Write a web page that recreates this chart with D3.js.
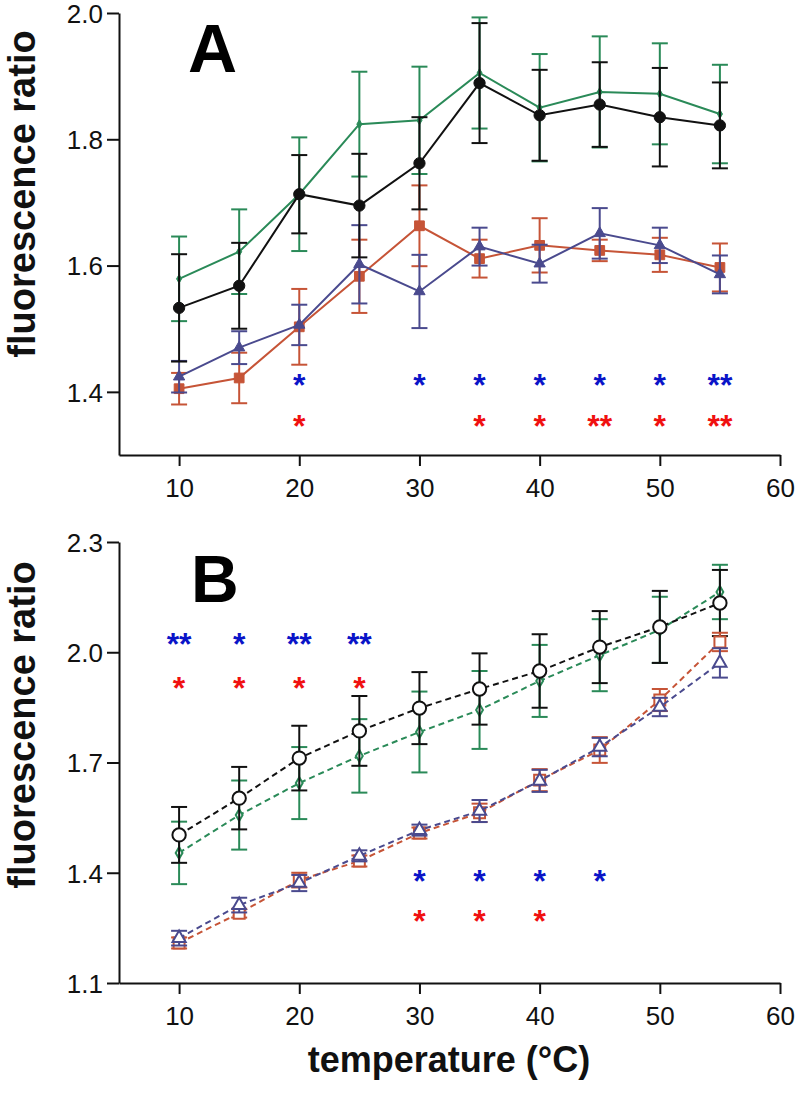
<!DOCTYPE html>
<html><head><meta charset="utf-8">
<script src="https://cdn.jsdelivr.net/npm/d3@7"></script>
<style>body{margin:0;background:#fff}</style></head><body>
<svg id="c" width="800" height="1093"></svg>
<script>
// ---------- data ----------
const temps = [10, 15, 20, 25, 30, 35, 40, 45, 50, 55];
const xTicks = [10, 20, 30, 40, 50, 60];
const yTicksA = [1.4, 1.6, 1.8, 2.0];
const yTicksB = [1.1, 1.4, 1.7, 2.0, 2.3];

// Panel A
const aBlack     = [1.533, 1.568, 1.713, 1.695, 1.762, 1.889, 1.838, 1.855, 1.835, 1.822];
const aBlackErr  = [0.085, 0.068, 0.062, 0.082, 0.073, 0.095, 0.072, 0.067, 0.078, 0.068];
const aGreen     = [1.579, 1.622, 1.713, 1.824, 1.830, 1.905, 1.850, 1.875, 1.872, 1.840];
const aGreenErr  = [0.067, 0.067, 0.090, 0.083, 0.085, 0.088, 0.085, 0.088, 0.080, 0.078];
const aPurple    = [1.424, 1.470, 1.506, 1.602, 1.559, 1.630, 1.603, 1.651, 1.632, 1.586];
const aPurpleErr = [0.025, 0.026, 0.032, 0.062, 0.058, 0.030, 0.030, 0.040, 0.028, 0.030];
const aRed       = [1.405, 1.422, 1.503, 1.583, 1.663, 1.611, 1.632, 1.624, 1.617, 1.597];
const aRedErr    = [0.025, 0.040, 0.060, 0.058, 0.064, 0.030, 0.043, 0.017, 0.027, 0.038];

// Panel B
const bBlack     = [1.503, 1.603, 1.712, 1.786, 1.848, 1.900, 1.949, 2.014, 2.069, 2.134];
const bBlackErr  = [0.076, 0.085, 0.088, 0.095, 0.098, 0.097, 0.100, 0.098, 0.098, 0.090];
const bGreen     = [1.454, 1.557, 1.644, 1.718, 1.783, 1.843, 1.922, 1.992, 2.061, 2.164];
const bGreenErr  = [0.085, 0.094, 0.098, 0.100, 0.110, 0.106, 0.098, 0.098, 0.090, 0.074];
const bRed       = [1.209, 1.290, 1.380, 1.432, 1.508, 1.563, 1.652, 1.734, 1.870, 2.028];
const bRedErr    = [0.015, 0.012, 0.020, 0.015, 0.015, 0.025, 0.030, 0.035, 0.030, 0.025];
const bPurple    = [1.222, 1.312, 1.372, 1.446, 1.516, 1.568, 1.650, 1.742, 1.851, 1.971];
const bPurpleErr = [0.020, 0.020, 0.022, 0.015, 0.015, 0.030, 0.030, 0.025, 0.025, 0.040];

// significance marks: [temperature, text, level]
const starsABlue = [[20,"*",1.42],[30,"*",1.42],[35,"*",1.42],[40,"*",1.42],[45,"*",1.42],[50,"*",1.42],[55,"**",1.42]];
const starsARed  = [[20,"*",1.355],[35,"*",1.355],[40,"*",1.355],[45,"**",1.355],[50,"*",1.355],[55,"**",1.355]];
const starsBBlue = [[10,"**",2.04],[15,"*",2.04],[20,"**",2.04],[25,"**",2.04],[30,"*",1.395],[35,"*",1.395],[40,"*",1.395],[45,"*",1.395]];
const starsBRed  = [[10,"*",1.92],[15,"*",1.92],[20,"*",1.92],[25,"*",1.92],[30,"*",1.285],[35,"*",1.285],[40,"*",1.285]];

// ---------- styles ----------
const C = {black:"#111111", green:"#2a8a58", purple:"#4a4a8e", red:"#c65437", starBlue:"#0a14c8", starRed:"#f01010"};
const FONT = "'Liberation Sans', Arial, Helvetica, sans-serif";

const svg = d3.select("#c");

function drawPanel(opt) {
  const x = d3.scaleLinear().domain([5, 60]).range([119, 780]);
  const y = d3.scaleLinear().domain(opt.yDomain).range(opt.yRange);
  const g = svg.append("g");

  // axes
  const ax = g.append("g").attr("transform", `translate(0,${opt.yRange[0]})`)
    .call(d3.axisBottom(x).tickValues(xTicks).tickSize(11).tickSizeOuter(0).tickPadding(6).tickFormat(d3.format("d")));
  const ay = g.append("g").attr("transform", `translate(119,0)`)
    .call(d3.axisLeft(y).tickValues(opt.yTicks).tickSize(12).tickSizeOuter(0).tickPadding(4).tickFormat(d3.format(".1f")));
  [ax, ay].forEach(a => {
    a.select(".domain").attr("stroke", "#111").attr("stroke-width", 2);
    a.selectAll(".tick line").attr("stroke", "#111").attr("stroke-width", 2);
    a.selectAll(".tick text").attr("fill", "#111").style("font-family", FONT).style("font-size", "26px");
  });
  ax.selectAll(".tick text").attr("dy", "0.95em");
  ay.selectAll(".tick text").attr("dy", "0.36em");

  // series
  opt.series.forEach(s => {
    const sg = g.append("g");
    const pts = temps.map((t, i) => ({t, v: s.vals[i], e: s.errs[i]}));
    // error bars
    const eb = sg.selectAll("g.eb").data(pts).join("g");
    eb.append("line").attr("x1", d => x(d.t)).attr("x2", d => x(d.t))
      .attr("y1", d => y(d.v - d.e)).attr("y2", d => y(d.v + d.e))
      .attr("stroke", s.color).attr("stroke-width", 2);
    [-1, 1].forEach(sgn => {
      eb.append("line").attr("x1", d => x(d.t) - 8).attr("x2", d => x(d.t) + 8)
        .attr("y1", d => y(d.v + sgn * d.e)).attr("y2", d => y(d.v + sgn * d.e))
        .attr("stroke", s.color).attr("stroke-width", 2);
    });
    // line
    sg.append("path").datum(pts)
      .attr("d", d3.line().x(d => x(d.t)).y(d => y(d.v)))
      .attr("fill", "none").attr("stroke", s.color).attr("stroke-width", 2)
      .attr("stroke-dasharray", s.dashed ? "6,4" : null);
    // markers
    sg.selectAll("path.m").data(pts).join("path")
      .attr("transform", d => `translate(${x(d.t)},${y(d.v)})`)
      .attr("d", d3.symbol().type(s.symbol).size(s.size))
      .attr("fill", s.open ? "#fff" : s.color)
      .attr("stroke", s.color).attr("stroke-width", s.open ? 2 : 1);
  });

  // stars
  opt.stars.forEach(st => {
    g.selectAll(null).data(st.data).join("text")
      .attr("x", d => x(d[0])).attr("y", d => y(d[2]) + 17)
      .attr("text-anchor", "middle").attr("fill", st.color)
      .style("font-family", FONT).style("font-size", "32px").style("font-weight", "bold")
      .text(d => d[1]);
  });

  // panel letter
  g.append("text").attr("x", opt.letterX).attr("y", opt.letterY)
    .style("font-family", FONT).style("font-weight", "bold").style("font-size", opt.letterSize + "px")
    .attr("fill", "#000").text(opt.letter);

  // y label
  g.append("text").attr("transform", `translate(35,${opt.yLabelY}) rotate(-90)`)
    .attr("text-anchor", "middle").style("font-family", FONT).style("font-weight", "bold")
    .style("font-size", "38px").attr("fill", "#111").text("fluorescence ratio");
}

drawPanel({
  yDomain: [1.3, 2.0], yRange: [455, 13], yTicks: yTicksA,
  series: [
    {vals: aRed, errs: aRedErr, color: C.red, symbol: d3.symbolSquare, size: 95},
    {vals: aPurple, errs: aPurpleErr, color: C.purple, symbol: d3.symbolTriangle, size: 55},
    {vals: aGreen, errs: aGreenErr, color: C.green, symbol: d3.symbolDiamond, size: 22},
    {vals: aBlack, errs: aBlackErr, color: C.black, symbol: d3.symbolCircle, size: 100}
  ],
  stars: [{data: starsABlue, color: C.starBlue}, {data: starsARed, color: C.starRed}],
  letter: "A", letterX: 188, letterY: 72, letterSize: 68, yLabelY: 194
});

drawPanel({
  yDomain: [1.1, 2.3], yRange: [983, 542], yTicks: yTicksB,
  series: [
    {vals: bGreen, errs: bGreenErr, color: C.green, symbol: d3.symbolDiamond, size: 40, open: true, dashed: true},
    {vals: bBlack, errs: bBlackErr, color: C.black, symbol: d3.symbolCircle, size: 140, open: true, dashed: true},
    {vals: bRed, errs: bRedErr, color: C.red, symbol: d3.symbolSquare, size: 120, open: true, dashed: true},
    {vals: bPurple, errs: bPurpleErr, color: C.purple, symbol: d3.symbolTriangle, size: 75, open: true, dashed: true}
  ],
  stars: [{data: starsBBlue, color: C.starBlue}, {data: starsBRed, color: C.starRed}],
  letter: "B", letterX: 191, letterY: 602, letterSize: 66, yLabelY: 725
});

// x axis title
svg.append("text").attr("x", 449).attr("y", 1072).attr("text-anchor", "middle")
  .style("font-family", FONT).style("font-weight", "bold").style("font-size", "36px")
  .attr("fill", "#111").text("temperature (°C)");
</script>
</body></html>
